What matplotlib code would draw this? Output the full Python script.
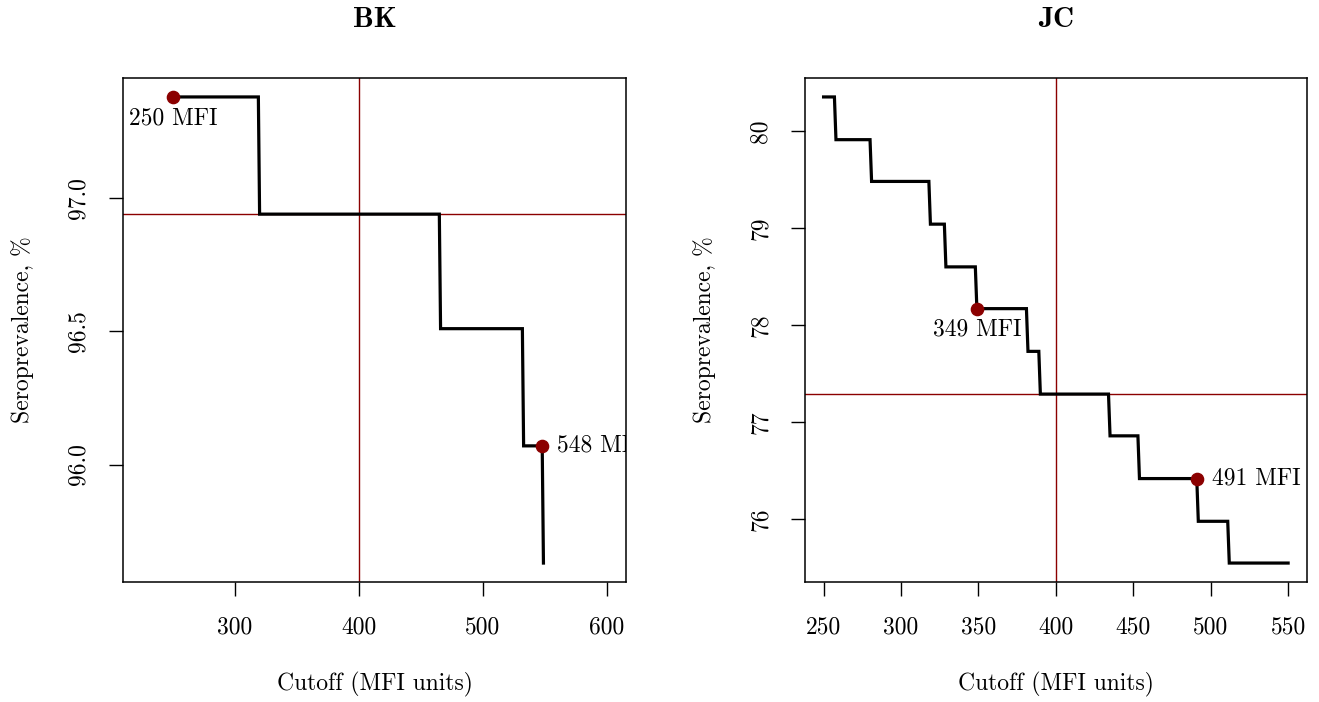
import matplotlib
matplotlib.use("Agg")
import matplotlib.pyplot as plt

plt.rcParams['font.family'] = ['cmr10', 'DejaVu Serif']
plt.rcParams['axes.formatter.use_mathtext'] = True

# ---- data ----
bk_cutoff = [250, 319, 320, 465, 466, 532, 533, 548, 549]
bk_sero = [97.38, 97.38, 96.94, 96.94, 96.51, 96.51, 96.07, 96.07, 95.63]
bk_ref_cutoff = 400
bk_ref_sero = 96.94
bk_marks_x = [250, 548]
bk_marks_y = [97.38, 96.07]
bk_marks_lab = ["250 MFI", "548 MFI"]
bk_xticks = [300, 400, 500, 600]
bk_yticks = [96.0, 96.5, 97.0]
bk_yticklabels = ["96.0", "96.5", "97.0"]

jc_cutoff = [250, 257, 258, 280, 281, 318, 319, 328, 329, 348, 349, 381,
             382, 389, 390, 434, 435, 453, 454, 491, 492, 511, 512, 550]
jc_sero = [80.35, 80.35, 79.91, 79.91, 79.48, 79.48, 79.04, 79.04, 78.60, 78.60,
           78.17, 78.17, 77.73, 77.73, 77.29, 77.29, 76.86, 76.86, 76.42, 76.42,
           75.98, 75.98, 75.55, 75.55]
jc_ref_cutoff = 400
jc_ref_sero = 77.29
jc_marks_x = [349, 491]
jc_marks_y = [78.17, 76.42]
jc_marks_lab = ["349 MFI", "491 MFI"]
jc_xticks = [250, 300, 350, 400, 450, 500, 550]
jc_yticks = [76, 77, 78, 79, 80]
jc_yticklabels = ["76", "77", "78", "79", "80"]

W, H = 1319, 702
fig = plt.figure(figsize=(W / 100, H / 100), dpi=100)

def ax_rect(l, r, t, b):
    return [l / W, 1 - b / H, (r - l) / W, (b - t) / H]

ax1 = fig.add_axes(ax_rect(123, 626, 78.3, 581.7))
ax2 = fig.add_axes(ax_rect(805, 1306.7, 78.3, 581.7))

RED = '#8B0000'
FS = 17

def rlim(vals):
    lo, hi = min(vals), max(vals)
    d = (hi - lo) * 0.04
    return lo - d, hi + d

def panel(ax, title, x, y, refx, refy, mx, my, mlab, mpos, xt, yt, ytl, xlim):
    ax.plot(x, y, color='black', lw=2.3, solid_joinstyle='miter', zorder=3)
    ax.axvline(refx, color=RED, lw=1.0, zorder=2)
    ax.axhline(refy, color=RED, lw=1.0, zorder=2)
    ax.plot(mx, my, 'o', color=RED, ms=8.8, mec=RED, zorder=4)
    for xi, yi, lab, pos in zip(mx, my, mlab, mpos):
        if pos == 'below':
            ax.annotate(lab, (xi, yi), xytext=(0, -21), textcoords='offset pixels',
                        ha='center', va='center', fontsize=FS, clip_on=True)
        else:
            ax.annotate(lab, (xi, yi), xytext=(15, 0), textcoords='offset pixels',
                        ha='left', va='center', fontsize=FS, clip_on=True)
    ax.set_xlim(*xlim)
    ax.set_ylim(*rlim(y))
    ax.set_xticks(xt)
    ax.set_xticklabels([str(v) for v in xt], fontsize=FS)
    ax.set_yticks(yt)
    ax.set_yticklabels(ytl, fontsize=FS, rotation=90, va='center')
    ax.tick_params(length=10, width=1.0, color='black', pad=15)
    ax.tick_params(axis='y', pad=14)
    for s in ax.spines.values():
        s.set_linewidth(1.1)
    ax.set_xlabel("Cutoff (MFI units)", fontsize=FS)
    ax.xaxis.set_label_coords(0.5, -0.2032)
    ax.xaxis.label.set_va('center')
    ax.set_ylabel("Seroprevalence, %", fontsize=FS)
    ax.yaxis.set_label_coords(-0.2, 0.5)
    ax.yaxis.label.set_va('center')
    ax.text(0.5, 1.1158, title, transform=ax.transAxes, ha='center', va='center',
            fontsize=21, family=['cmb10', 'DejaVu Serif'])

panel(ax1, "BK", bk_cutoff, bk_sero, bk_ref_cutoff, bk_ref_sero,
      bk_marks_x, bk_marks_y, bk_marks_lab, ['below', 'right'],
      bk_xticks, bk_yticks, bk_yticklabels, (209.8, 615.6))
panel(ax2, "JC", jc_cutoff, jc_sero, jc_ref_cutoff, jc_ref_sero,
      jc_marks_x, jc_marks_y, jc_marks_lab, ['below', 'right'],
      jc_xticks, jc_yticks, jc_yticklabels, rlim(jc_cutoff))

fig.savefig("out.png", dpi=100)
